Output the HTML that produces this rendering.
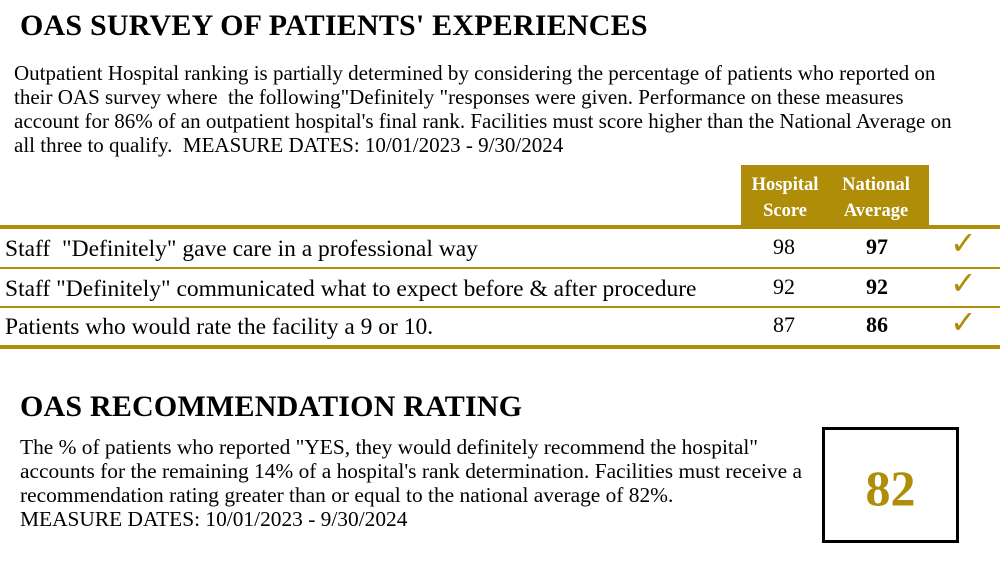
<!DOCTYPE html>
<html><head><style>
body{margin:0;width:1000px;height:564px;background:#fff;position:relative;font-family:"Liberation Serif",serif;color:#000;overflow:hidden}
.a{position:absolute;white-space:nowrap}
.h{font-weight:bold;font-size:30px;letter-spacing:0.2px}
.p{font-size:21px;line-height:24px}
.g{background:#b08d08}
.c{text-align:center;width:60px;font-size:22px}
.r{font-size:23.5px}
.ck{color:#b08d08;font-size:32px}
</style></head><body>
<div class="a h" style="left:20px;top:9px">OAS SURVEY OF PATIENTS' EXPERIENCES</div>
<div class="a p" style="left:14px;top:61px">Outpatient Hospital ranking is partially determined by considering the percentage of patients who reported on<br>their OAS survey where &nbsp;the following"Definitely "responses were given. Performance on these measures<br>account for 86% of an outpatient hospital's final rank. Facilities must score higher than the National Average on<br>all three to qualify. &nbsp;MEASURE DATES: 10/01/2023 - 9/30/2024</div>
<div class="a g" style="left:741px;top:165px;width:188px;height:60px"></div>
<div class="a" style="left:738px;top:172px;width:94px;text-align:center;color:#fff;font-weight:bold;font-size:18.5px;line-height:26px">Hospital<br>Score</div>
<div class="a" style="left:829px;top:172px;width:94px;text-align:center;color:#fff;font-weight:bold;font-size:18.5px;line-height:26px">National<br>Average</div>
<div class="a g" style="left:0;top:225px;width:1000px;height:4px"></div>
<div class="a g" style="left:0;top:267px;width:1000px;height:2px"></div>
<div class="a g" style="left:0;top:306px;width:1000px;height:2px"></div>
<div class="a g" style="left:0;top:345px;width:1000px;height:4px"></div>
<div class="a r" style="left:5px;top:236px">Staff &nbsp;"Definitely" gave care in a professional way</div>
<div class="a r" style="left:5px;top:276px">Staff "Definitely" communicated what to expect before &amp; after procedure</div>
<div class="a r" style="left:5px;top:314px">Patients who would rate the facility a 9 or 10.</div>
<div class="a c" style="left:754px;top:234px">98</div>
<div class="a c" style="left:754px;top:274px">92</div>
<div class="a c" style="left:754px;top:312px">87</div>
<div class="a c" style="left:847px;top:234px;font-weight:bold">97</div>
<div class="a c" style="left:847px;top:274px;font-weight:bold">92</div>
<div class="a c" style="left:847px;top:312px;font-weight:bold">86</div>
<div class="a ck" style="left:950px;top:224px">✓</div>
<div class="a ck" style="left:950px;top:264px">✓</div>
<div class="a ck" style="left:950px;top:303px">✓</div>
<div class="a h" style="left:20px;top:390px">OAS RECOMMENDATION RATING</div>
<div class="a p" style="left:20px;top:435px;font-size:21.4px">The % of patients who reported "YES, they would definitely recommend the hospital"<br>accounts for the remaining 14% of a hospital's rank determination. Facilities must receive a<br>recommendation rating greater than or equal to the national average of 82%.<br>MEASURE DATES: 10/01/2023 - 9/30/2024</div>
<div class="a" style="left:822px;top:427px;width:131px;height:110px;border:3px solid #000"></div>
<div class="a" style="left:822px;top:458px;width:137px;text-align:center;color:#b08d08;font-weight:bold;font-size:50px;line-height:60px">82</div>
</body></html>
